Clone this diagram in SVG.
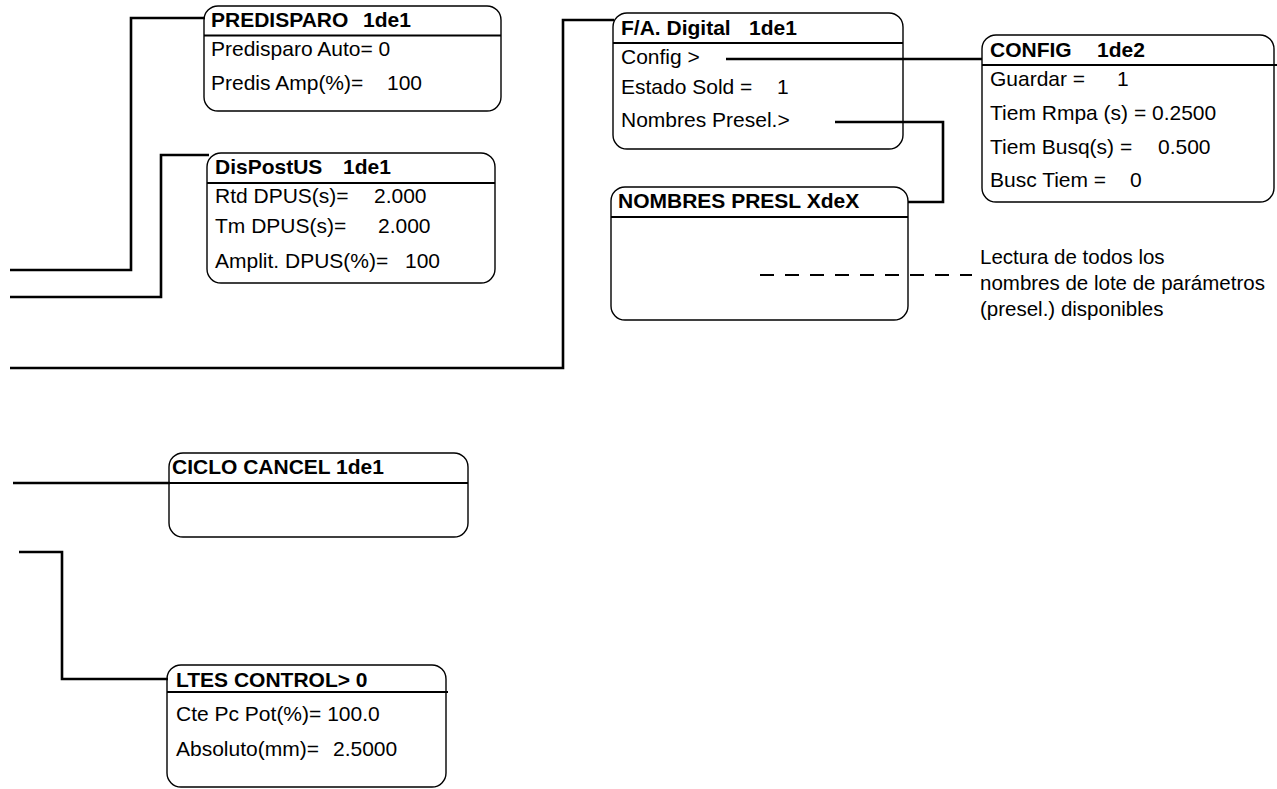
<svg xmlns="http://www.w3.org/2000/svg" width="1277" height="789" viewBox="0 0 1277 789" xml:space="preserve">
<style>
.box{fill:#fff;stroke:#000;stroke-width:1.4}
.hdr{stroke:#000;stroke-width:2;fill:none}
.con{stroke:#000;stroke-width:2.6;fill:none}
.dash{stroke:#000;stroke-width:2;fill:none;stroke-dasharray:14 11}
text{font-family:"Liberation Sans",Arial,sans-serif;font-size:21px;fill:#000}
.t{font-weight:bold}
.note{font-size:20.5px}
</style>
<rect width="1277" height="789" fill="#fff"/>
<g id="predisparo">
<rect class="box" x="204" y="6" width="297" height="105" rx="14"/>
<line class="hdr" x1="204" y1="35.5" x2="501" y2="35.5"/>
<text class="t" x="211" y="27">PREDISPARO<tspan x="363">1de1</tspan></text>
<text x="211" y="56">Predisparo Auto= 0</text>
<text x="211" y="90">Predis Amp(%)=<tspan x="387">100</tspan></text>
</g>
<g id="dispostus">
<rect class="box" x="207" y="153" width="288" height="130" rx="14"/>
<line class="hdr" x1="207" y1="183" x2="495" y2="183"/>
<text class="t" x="215" y="174">DisPostUS<tspan x="343">1de1</tspan></text>
<text x="215" y="203">Rtd DPUS(s)=<tspan x="374">2.000</tspan></text>
<text x="215" y="233">Tm DPUS(s)=<tspan x="378">2.000</tspan></text>
<text x="215" y="268">Amplit. DPUS(%)=<tspan x="405">100</tspan></text>
</g>
<g id="fa-digital">
<rect class="box" x="613" y="13" width="290" height="136" rx="14"/>
<line class="hdr" x1="613" y1="43" x2="903" y2="43"/>
<text class="t" x="621" y="35">F/A. Digital<tspan x="749">1de1</tspan></text>
<text x="621" y="64">Config &gt;</text>
<text x="621" y="94">Estado Sold =<tspan x="777">1</tspan></text>
<text x="621" y="127">Nombres Presel.&gt;</text>
</g>
<g id="config">
<rect class="box" x="982" y="35" width="292" height="167" rx="14"/>
<line class="hdr" x1="982" y1="65" x2="1277" y2="65"/>
<text class="t" x="990" y="57">CONFIG<tspan x="1097">1de2</tspan></text>
<text x="990" y="86">Guardar =<tspan x="1117">1</tspan></text>
<text x="990" y="120">Tiem Rmpa (s) = 0.2500</text>
<text x="990" y="154">Tiem Busq(s) =<tspan x="1158">0.500</tspan></text>
<text x="990" y="187">Busc Tiem =<tspan x="1130">0</tspan></text>
</g>
<g id="nombres-presl">
<rect class="box" x="611" y="187" width="297" height="133" rx="14"/>
<line class="hdr" x1="611" y1="217" x2="908" y2="217"/>
<text class="t" x="618" y="208">NOMBRES PRESL XdeX</text>
</g>
<g id="ciclo-cancel">
<rect class="box" x="169" y="453" width="299" height="84" rx="14"/>
<line class="hdr" x1="169" y1="483" x2="468" y2="483"/>
<text class="t" x="172" y="474">CICLO CANCEL 1de1</text>
</g>
<g id="ltes-control">
<rect class="box" x="167" y="665" width="279" height="122" rx="14"/>
<line class="hdr" x1="167" y1="692" x2="448" y2="692"/>
<text class="t" x="176" y="687">LTES CONTROL&gt; 0</text>
<text x="176" y="721">Cte Pc Pot(%)= 100.0</text>
<text x="176" y="756">Absoluto(mm)=<tspan x="333">2.5000</tspan></text>
</g>
<g id="note">
<text class="note" x="980" y="264">Lectura de todos los</text>
<text class="note" x="980" y="290">nombres de lote de parámetros</text>
<text class="note" x="980" y="316">(presel.) disponibles</text>
</g>
<g id="connectors">
<path class="con" d="M10,270 H131 V18 H205"/>
<path class="con" d="M10,297 H161 V155 H209"/>
<path class="con" d="M10,368 H563 V20 H614"/>
<path class="con" d="M13,483 H170"/>
<path class="con" d="M19,552 H62 V679 H168"/>
<path class="con" d="M726,59 H982"/>
<path class="con" d="M835,122 H943 V202 H908"/>
<path class="dash" d="M760,275 H972"/>
</g>
</svg>
